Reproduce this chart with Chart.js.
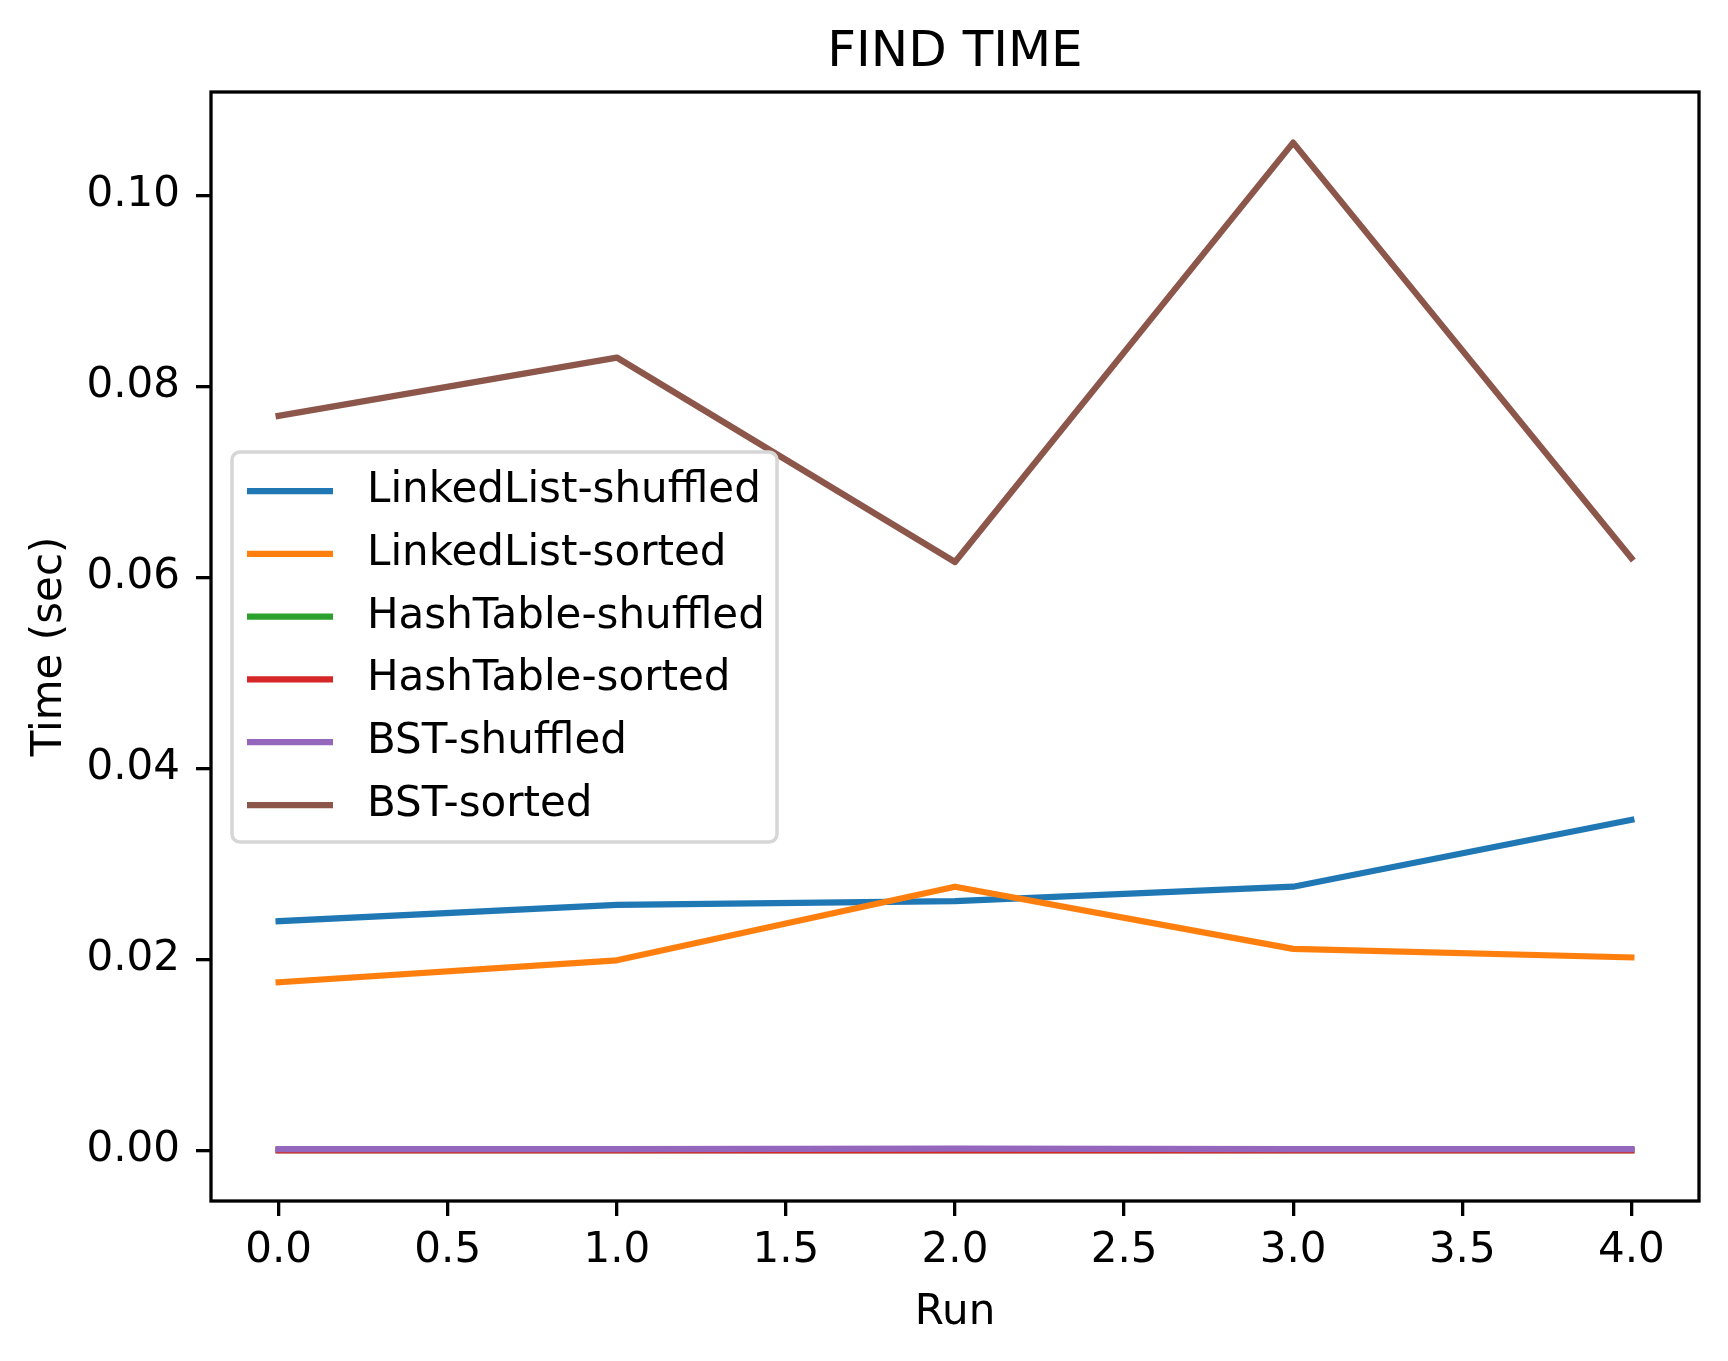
<!DOCTYPE html>
<html>
<head>
<meta charset="utf-8">
<title>FIND TIME</title>
<script src="https://cdn.jsdelivr.net/npm/chart.js@4.4.0/dist/chart.umd.min.js"></script>
<style>
  body { margin: 0; background: #fff; }
  #wrap { width: 1728px; height: 1361px; }
</style>
</head>
<body>
<div id="wrap"><canvas id="findChart" width="1728" height="1361"></canvas></div>
<script>
// values
const runs = [0, 1, 2, 3, 4];
const seriesNames = ["LinkedList-shuffled", "LinkedList-sorted", "HashTable-shuffled",
                     "HashTable-sorted", "BST-shuffled", "BST-sorted"];
const linkedListShuffled = [0.0240, 0.0257, 0.0261, 0.0276, 0.0346];
const linkedListSorted   = [0.0176, 0.0199, 0.0276, 0.0211, 0.0202];
const hashTableShuffled  = [0.00002, 0.00002, 0.00002, 0.00002, 0.00002];
const hashTableSorted    = [0.00001, 0.00001, 0.00001, 0.00001, 0.00001];
const bstShuffled        = [0.00012, 0.00013, 0.00019, 0.00014, 0.00013];
const bstSorted          = [0.0769, 0.0830, 0.0616, 0.1055, 0.0620];
const xTickValues = [0, 0.5, 1, 1.5, 2, 2.5, 3, 3.5, 4];
const yTickValues = [0, 0.02, 0.04, 0.06, 0.08, 0.10];
const xLimits = [-0.2, 4.2];
const yLimits = [-0.0053, 0.1108];

const colors = ["#1f77b4", "#ff7f0e", "#2ca02c", "#d62728", "#9467bd", "#8c564b"];
const FONT = "'DejaVu Sans', sans-serif";

const allSeries = [linkedListShuffled, linkedListSorted, hashTableShuffled,
                   hashTableSorted, bstShuffled, bstSorted];

// box round the plot area (all four spines)
const framePlugin = {
    id: "frame",
    afterDatasetsDraw(chart) {
        const a = chart.chartArea;
        const ctx = chart.ctx;
        ctx.save();
        ctx.strokeStyle = "#000";
        ctx.lineWidth = 3.3;
        ctx.strokeRect(a.left, a.top, a.right - a.left, a.bottom - a.top);
        ctx.restore();
    }
};

// title centred over the plot area, like matplotlib
const titlePlugin = {
    id: "axTitle",
    afterDraw(chart) {
        const a = chart.chartArea;
        const ctx = chart.ctx;
        ctx.save();
        ctx.fillStyle = "#000";
        ctx.font = "50px " + FONT;
        ctx.textAlign = "center";
        ctx.textBaseline = "middle";
        ctx.fillText("FIND TIME", (a.left + a.right) / 2, 53);
        ctx.restore();
    }
};

// legend inside the axes, middle left
const legendPlugin = {
    id: "boxLegend",
    afterDraw(chart) {
        const ctx = chart.ctx;
        const left = 232, top = 452, w = 545, h = 390;
        ctx.save();
        ctx.beginPath();
        ctx.roundRect(left, top, w, h, 8);
        ctx.fillStyle = "rgba(255,255,255,0.8)";
        ctx.fill();
        ctx.lineWidth = 3.5;
        ctx.strokeStyle = "#d6d6d6";
        ctx.stroke();

        ctx.font = "42px " + FONT;
        ctx.textAlign = "left";
        ctx.textBaseline = "middle";
        chart.data.datasets.forEach((ds, i) => {
            const y = top + 39 + i * 62.8;
            ctx.strokeStyle = ds.borderColor;
            ctx.lineWidth = 6.25;
            ctx.beginPath();
            ctx.moveTo(247, y);
            ctx.lineTo(333, y);
            ctx.stroke();
            ctx.fillStyle = "#000";
            ctx.fillText(ds.label, 367, y);
        });
        ctx.restore();
    }
};

const datasets = seriesNames.map((name, i) => ({
    label: name,
    data: runs.map((r, j) => ({ x: r, y: allSeries[i][j] })),
    borderColor: colors[i],
    backgroundColor: colors[i],
    borderWidth: 6.25,
    borderJoinStyle: "round",
    borderCapStyle: "square",
    pointRadius: 0,
    fill: false,
    tension: 0,
    order: seriesNames.length - i
}));

const ctx = document.getElementById("findChart").getContext("2d");
new Chart(ctx, {
    type: "line",
    data: { datasets: datasets },
    plugins: [framePlugin, titlePlugin, legendPlugin],
    options: {
        responsive: false,
        animation: false,
        devicePixelRatio: 1,
        layout: { padding: { top: 92, right: 29, left: 0, bottom: 0 } },
        plugins: {
            legend: { display: false },
            title: { display: false },
            tooltip: { enabled: false }
        },
        scales: {
            x: {
                type: "linear",
                min: xLimits[0],
                max: xLimits[1],
                afterBuildTicks: scale => { scale.ticks = xTickValues.map(v => ({ value: v })); },
                afterFit: scale => { scale.height = 160; },
                border: { display: false },
                grid: { drawOnChartArea: false, drawTicks: true, tickLength: 15, color: "#000", lineWidth: 3.3 },
                ticks: {
                    color: "#000",
                    font: { family: FONT, size: 42 },
                    padding: 10,
                    maxRotation: 0,
                    autoSkip: false,
                    callback: v => v.toFixed(1)
                },
                title: {
                    display: true,
                    text: "Run",
                    color: "#000",
                    font: { family: FONT, size: 42 },
                    padding: { top: 0, bottom: 23 }
                }
            },
            y: {
                type: "linear",
                min: yLimits[0],
                max: yLimits[1],
                afterBuildTicks: scale => { scale.ticks = yTickValues.map(v => ({ value: v })); },
                afterFit: scale => { scale.width = 211; },
                border: { display: false },
                grid: { drawOnChartArea: false, drawTicks: true, tickLength: 15, color: "#000", lineWidth: 3.3 },
                ticks: {
                    color: "#000",
                    font: { family: FONT, size: 42 },
                    padding: 16,
                    autoSkip: false,
                    callback: v => v.toFixed(2)
                },
                title: {
                    display: true,
                    text: "Time (sec)",
                    color: "#000",
                    font: { family: FONT, size: 42 },
                    padding: { top: 25, bottom: 0 }
                }
            }
        }
    }
});
</script>
</body>
</html>
